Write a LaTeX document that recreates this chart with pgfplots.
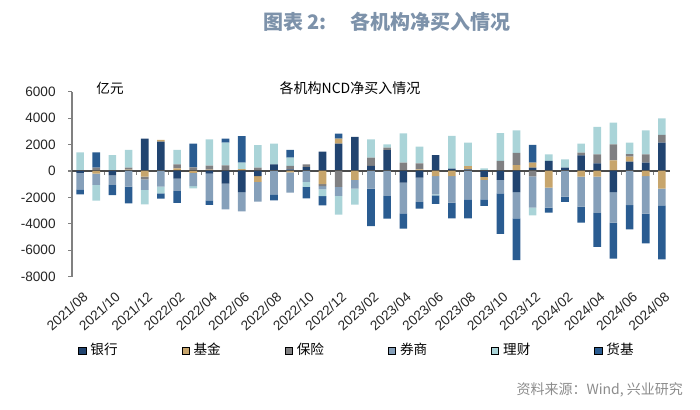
\documentclass[border=0pt]{standalone}
\usepackage{fontspec}
\setmainfont{Liberation Sans}
\newfontfamily\cjk{Noto Sans CJK SC}
\usepackage{pgfplots}
\usepackage{pgfplotstable}
\pgfplotsset{compat=1.18}

\definecolor{cyh}{RGB}{33,68,112}
\definecolor{cjj}{RGB}{199,165,108}
\definecolor{cbx}{RGB}{128,128,130}
\definecolor{cqs}{RGB}{134,160,186}
\definecolor{clc}{RGB}{170,212,216}
\definecolor{chj}{RGB}{42,92,145}
\definecolor{titlec}{RGB}{125,146,170}
\definecolor{zeroc}{RGB}{75,75,75}

% month index, then 银行 基金 保险 券商 理财 货基 (亿元)
\pgfplotstableread{
i   yh     jj     bx     qs     lc     hj
0   -150   0      0      -1250  1400   -370
1   0      -200   250    -850   -1200  1150
2   -330   0      0      -730   1200   -760
3   0      100    150    -1190  1340   -1260
4   2450   -430   -200   -800   -1090  0
5   2230   130    0      -1190  -500   -400
6   -580   200    300    -930   1100   -910
7   0      -150   270    -1000  -160   1800
8   -200   100    300    -2020  2000   -350
9   -960   0      430    -1940  1720   300
10  -1590  150    0      -1460  480    2000
11  -380   -450   250    -1490  1700   0
12  500    0      0      -1770  1570   -450
13  130    -100   250    -1540  630    580
14  300    0      200    -830   -380   -860
15  1460   -1000  -150   -250   -500   -700
16  2070   380    -1210  -680   -1410  380
17  2580   -680   0      -660   -1210  0
18  380    0      630    -1340  1390   -2830
19  1570   0      200    -1890  250    -1720
20  -880   0      630    -2320  2220   -1160
21  -500   130    450    -1840  1260   -500
22  1210   -380   0      -1390  -80    -630
23  180    -380   0      -2020  2470   -1190
24  120    250    0      -2150  1770   -1440
25  -450   -230   0      -1460  200    -500
26  -680   0      760    -1010  2100   -3060
27  -1590  450    930    -2000  1690   -3160
28  250    380    -400   -2380  -580   1340
29  760    -1260  0      -1510  500    -380
30  250    0      0      -1940  630    -400
31  1190   -430   200    -2270  680    -1210
32  580    -430   680    -2730  2070   -2580
33  -1590  810    1210   -2320  1640   -2730
34  710    380    180    -2580  880    -1840
35  630    -380   630    -2850  1820   -2250
36  2150   -1340  580    -1260  1260   -4090
}\data

\pgfplotsset{
  base/.style={
    scale only axis, width=299pt, height=92.5pt,
    at={(36pt,66.15pt)}, anchor=south west,
    xmin=-0.5, xmax=36.5, ymin=-8000, ymax=6000,
    ybar stacked, bar width=3.8pt,
  },
  sq/.style={legend image code/.code={\draw[##1] (0pt,-1.8pt) rectangle (3.6pt,1.8pt);}},
}

\begin{document}
\begin{tikzpicture}
\useasboundingbox (0,0) rectangle (350pt,204.5pt);

% positive parts (with axis, ticks and legend)
\begin{axis}[base,
  axis y line*=left, axis x line*=bottom,
  x axis line style={draw=none},
  y axis line style={draw=gray, line width=0.6pt},
  ytick={-8000,-6000,...,6000},
  tick align=outside, major tick length=2pt,
  ytick style={draw=gray, line width=0.6pt},
  xtick={0,2,...,36},
  xticklabels={2021/08,2021/10,2021/12,2022/02,2022/04,2022/06,2022/08,2022/10,2022/12,2023/02,2023/04,2023/06,2023/08,2023/10,2023/12,2024/02,2024/04,2024/06,2024/08},
  xtick style={draw=none},
  scaled y ticks=false,
  /pgf/number format/1000 sep={},
  /pgf/number format/assume math mode=true,
  tick label style={font=\fontsize{6.8}{8}\selectfont, text=black!85},
  yticklabel style={inner sep=0pt, xshift=-6pt},
  xticklabel style={yshift=-5pt, xshift=1pt, rotate=42, anchor=north east, inner sep=0pt},
  legend style={at={(0.0,-0.40)}, anchor=west, draw=none, fill=none,
    legend columns=6, font=\cjk\fontsize{6.8}{8}\selectfont,
    /tikz/every even column/.append style={column sep=30pt}},
]
\addplot[sq, fill=cyh, draw=none] table[x=i, y expr={max(\thisrow{yh},0)}] {\data};
\addlegendentry{银行}
\addplot[sq, fill=cjj, draw=none] table[x=i, y expr={max(\thisrow{jj},0)}] {\data};
\addlegendentry{基金}
\addplot[sq, fill=cbx, draw=none] table[x=i, y expr={max(\thisrow{bx},0)}] {\data};
\addlegendentry{保险}
\addplot[sq, fill=cqs, draw=none] table[x=i, y expr={max(\thisrow{qs},0)}] {\data};
\addlegendentry{券商}
\addplot[sq, fill=clc, draw=none] table[x=i, y expr={max(\thisrow{lc},0)}] {\data};
\addlegendentry{理财}
\addplot[sq, fill=chj, draw=none] table[x=i, y expr={max(\thisrow{hj},0)}] {\data};
\addlegendentry{货基}
\end{axis}

% negative parts, stacked downward from zero
\begin{axis}[base, hide axis]
\addplot[fill=cyh, draw=none] table[x=i, y expr={min(\thisrow{yh},0)}] {\data};
\addplot[fill=cjj, draw=none] table[x=i, y expr={min(\thisrow{jj},0)}] {\data};
\addplot[fill=cbx, draw=none] table[x=i, y expr={min(\thisrow{bx},0)}] {\data};
\addplot[fill=cqs, draw=none] table[x=i, y expr={min(\thisrow{qs},0)}] {\data};
\addplot[fill=clc, draw=none] table[x=i, y expr={min(\thisrow{lc},0)}] {\data};
\addplot[fill=chj, draw=none] table[x=i, y expr={min(\thisrow{hj},0)}] {\data};
\draw[zeroc, line width=0.7pt] (axis cs:-0.5,0) -- (axis cs:36.5,0);
\pgfplotsinvokeforeach{1.5,3.5,...,35.5}{\draw[gray, line width=0.5pt] (axis cs:#1,0) -- ++(0pt,-2pt);}
\end{axis}

\node[font=\cjk\bfseries\fontsize{10}{12}\selectfont, text=titlec] at (193.5pt,193.5pt) {图表 2:\hspace{1.2em}各机构净买入情况};
\node[font=\cjk\fontsize{6.8}{8}\selectfont] at (55pt,160.5pt) {亿元};
\node[font=\cjk\fontsize{7}{8}\selectfont] at (175pt,160.5pt) {各机构NCD净买入情况};
\node[font=\cjk\fontsize{7}{8}\selectfont, text=black!45, anchor=east] at (345pt,9.5pt) {资料来源：Wind, 兴业研究};
\end{tikzpicture}
\end{document}
